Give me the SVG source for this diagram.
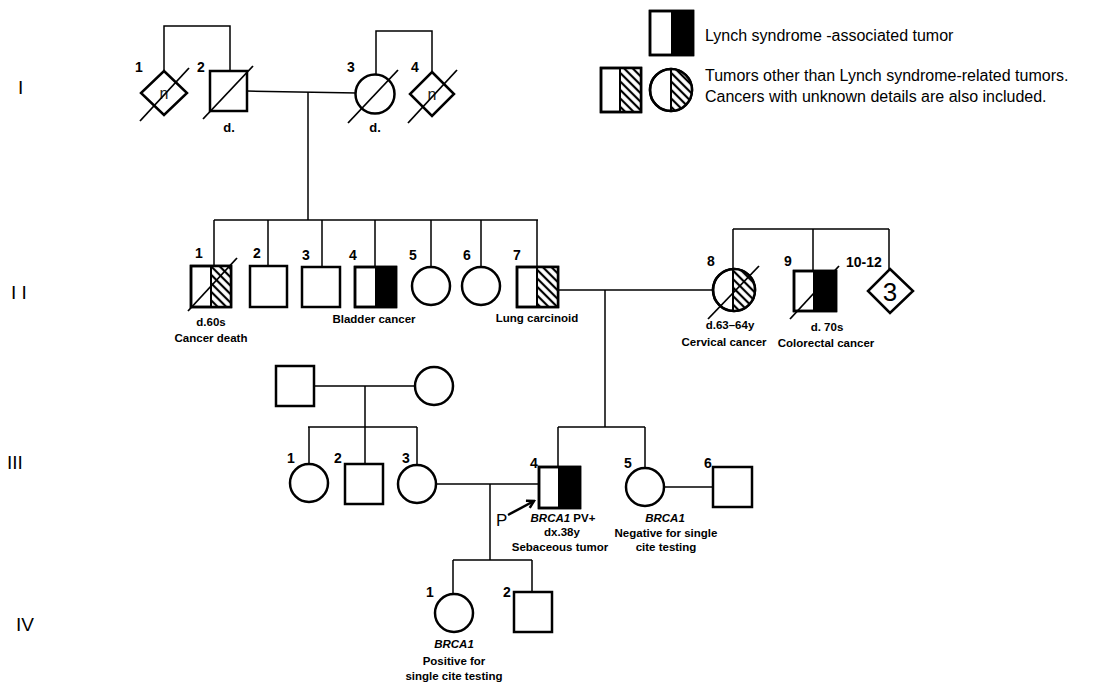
<svg xmlns="http://www.w3.org/2000/svg" width="1105" height="684" viewBox="0 0 1105 684">
<style>
.sym{fill:#fff;stroke:#000;stroke-width:2.5}
.blk{fill:#000;stroke:none}
.ln{fill:none;stroke:#000;stroke-width:1.5}
.sl{fill:none;stroke:#000;stroke-width:1.8}
.num{font-family:"Liberation Sans",Arial,sans-serif;font-weight:bold;font-size:14px;fill:#000}
.t{font-family:"Liberation Sans",Arial,sans-serif;font-weight:bold;font-size:11.5px;fill:#000;text-anchor:middle}
.it{font-style:italic}
.leg{font-family:"Liberation Sans",Arial,sans-serif;font-size:16px;fill:#000}
.gen{font-family:"Liberation Sans",Arial,sans-serif;font-size:19px;fill:#000}
.n{font-family:"Liberation Sans",Arial,sans-serif;font-size:16px;fill:#222;text-anchor:middle}
</style>
<defs>
<pattern id="hatch" width="6" height="6" patternUnits="userSpaceOnUse" patternTransform="rotate(-45)">
<rect width="6" height="6" fill="#fff"/>
<line x1="3" y1="-1" x2="3" y2="7" stroke="#000" stroke-width="2.2"/>
</pattern>
<clipPath id="c8"><circle cx="734" cy="290" r="21"/></clipPath>
<clipPath id="cleg"><circle cx="671" cy="90" r="21"/></clipPath>
<marker id="arr" markerWidth="10" markerHeight="10" refX="8" refY="5" orient="auto" markerUnits="userSpaceOnUse">
<path d="M1,1 L8,5 L1,9" fill="none" stroke="#000" stroke-width="2.5"/>
</marker>
</defs>
<rect width="1105" height="684" fill="#fff"/>

<g id="generations">
<text class="gen" x="18" y="94">I</text>
<text class="gen" x="11" y="299">I I</text>
<text class="gen" x="7" y="469">III</text>
<text class="gen" x="16" y="631">IV</text>
</g>

<g id="legend">
<rect class="sym" x="650" y="11" width="43" height="44"/>
<rect class="blk" x="671" y="11" width="22" height="44"/>
<rect x="650" y="11" width="43" height="44" fill="none" stroke="#000" stroke-width="2.5"/>
<text class="leg" x="705" y="41">Lynch syndrome -associated tumor</text>
<rect class="sym" x="601" y="68" width="40" height="44"/>
<rect x="620" y="68" width="21" height="44" fill="url(#hatch)"/>
<line x1="620" y1="68" x2="620" y2="112" stroke="#000" stroke-width="2"/>
<rect x="601" y="68" width="40" height="44" fill="none" stroke="#000" stroke-width="2.5"/>
<circle class="sym" cx="671" cy="90" r="21"/>
<rect x="671" y="68" width="22" height="44" fill="url(#hatch)" clip-path="url(#cleg)"/>
<line x1="671" y1="69" x2="671" y2="111" stroke="#000" stroke-width="2"/>
<circle cx="671" cy="90" r="21" fill="none" stroke="#000" stroke-width="2.5"/>
<text class="leg" x="705" y="81">Tumors other than Lynch syndrome-related tumors.</text>
<text class="leg" x="705" y="102">Cancers with unknown details are also included.</text>
</g>

<g id="connectors">
<path class="ln" d="M164,71 V26 H230 V71"/>
<path class="ln" d="M376,74 V31 H432 V72"/>
<path class="ln" d="M247,91 L357,93"/>
<path class="ln" d="M308,92 V220"/>
<path class="ln" d="M214,220 H538"/>
<path class="ln" d="M214,220 V266 M268,220 V266 M322,220 V267 M375,220 V267 M431,220 V267 M481,220 V267 M537,220 V267"/>
<path class="ln" d="M558,290 H712"/>
<path class="ln" d="M605,290 V427"/>
<path class="ln" d="M733,229 H889 M733,229 V269 M813,229 V271 M889,229 V269"/>
<path class="ln" d="M314,386 H415 M365,386 V427 M308,427 H417 M309,427 V464 M365,427 V464 M417,427 V465"/>
<path class="ln" d="M558,427 H645 M558,427 V467 M645,427 V467"/>
<path class="ln" d="M436,484 H539"/>
<path class="ln" d="M490,484 V560 M453,560 H532 M453,560 V594 M532,560 V592"/>
<path class="ln" d="M664,487 H713"/>
<line x1="508" y1="515" x2="534" y2="501" stroke="#000" stroke-width="2.5" marker-end="url(#arr)"/>
<text class="gen" x="496" y="526" style="font-size:17px">P</text>
</g>

<g id="I-1">
<polygon class="sym" points="164,71 187,93 164,115 141,93"/>
<text class="n" x="164" y="99">n</text>
<line class="sl" x1="140" y1="121" x2="189" y2="68"/>
<text class="num" x="135" y="72">1</text>
</g>
<g id="I-2">
<rect class="sym" x="210" y="71" width="37" height="40"/>
<line class="sl" x1="203" y1="119" x2="253" y2="66"/>
<text class="num" x="197" y="72">2</text>
<text class="t" x="229" y="132" style="font-size:13px">d.</text>
</g>
<g id="I-3">
<circle class="sym" cx="375" cy="94" r="19.5"/>
<line class="sl" x1="348" y1="123" x2="398" y2="70"/>
<text class="num" x="347" y="72">3</text>
<text class="t" x="375" y="132" style="font-size:13px">d.</text>
</g>
<g id="I-4">
<polygon class="sym" points="432,72 454,94 432,116 410,94"/>
<text class="n" x="432" y="100">n</text>
<line class="sl" x1="408" y1="123" x2="457" y2="70"/>
<text class="num" x="411" y="72">4</text>
</g>

<g id="II-1">
<rect class="sym" x="191" y="266" width="40" height="41"/>
<rect x="211" y="266" width="20" height="41" fill="url(#hatch)"/>
<line x1="211" y1="266" x2="211" y2="307" stroke="#000" stroke-width="2"/>
<rect x="191" y="266" width="40" height="41" fill="none" stroke="#000" stroke-width="2.5"/>
<line class="sl" x1="188" y1="311" x2="237" y2="258"/>
<text class="num" x="195" y="258">1</text>
<text class="t" x="211" y="326">d.60s</text>
<text class="t" x="211" y="342">Cancer death</text>
</g>
<g id="II-2">
<rect class="sym" x="250" y="266" width="37" height="41"/>
<text class="num" x="253" y="258">2</text>
</g>
<g id="II-3">
<rect class="sym" x="302" y="267" width="38" height="40"/>
<text class="num" x="302" y="260">3</text>
</g>
<g id="II-4">
<rect class="sym" x="355" y="267" width="41" height="40"/>
<rect class="blk" x="375" y="267" width="21" height="40"/>
<rect x="355" y="267" width="41" height="40" fill="none" stroke="#000" stroke-width="2.5"/>
<text class="num" x="349" y="260">4</text>
<text class="t" x="374" y="323">Bladder cancer</text>
</g>
<g id="II-5">
<circle class="sym" cx="431" cy="286" r="19"/>
<text class="num" x="409" y="260">5</text>
</g>
<g id="II-6">
<circle class="sym" cx="481" cy="286" r="19"/>
<text class="num" x="463" y="260">6</text>
</g>
<g id="II-7">
<rect class="sym" x="517" y="267" width="41" height="40"/>
<rect x="537" y="267" width="21" height="40" fill="url(#hatch)"/>
<line x1="537" y1="267" x2="537" y2="307" stroke="#000" stroke-width="2"/>
<rect x="517" y="267" width="41" height="40" fill="none" stroke="#000" stroke-width="2.5"/>
<text class="num" x="513" y="260">7</text>
<text class="t" x="537" y="322">Lung carcinoid</text>
</g>
<g id="II-8">
<circle class="sym" cx="734" cy="290" r="21"/>
<rect x="733" y="268" width="24" height="44" fill="url(#hatch)" clip-path="url(#c8)"/>
<line x1="733" y1="269" x2="733" y2="311" stroke="#000" stroke-width="2"/>
<circle cx="734" cy="290" r="21" fill="none" stroke="#000" stroke-width="2.5"/>
<line class="sl" x1="708" y1="319" x2="759" y2="266"/>
<text class="num" x="707" y="266">8</text>
<text class="t" x="730" y="329">d.63–64y</text>
<text class="t" x="724" y="346">Cervical cancer</text>
</g>
<g id="II-9">
<rect class="sym" x="794" y="271" width="42" height="40"/>
<rect class="blk" x="813" y="271" width="23" height="40"/>
<rect x="794" y="271" width="42" height="40" fill="none" stroke="#000" stroke-width="2.5"/>
<line class="sl" x1="790" y1="319" x2="839" y2="266"/>
<text class="num" x="784" y="266">9</text>
<text class="t" x="827" y="331">d. 70s</text>
<text class="t" x="826" y="347">Colorectal cancer</text>
</g>
<g id="II-10-12">
<polygon class="sym" points="890,269 913,291 890,313 868,291"/>
<text x="890" y="301" style="font-family:'Liberation Sans',Arial,sans-serif;font-size:26px;text-anchor:middle">3</text>
<text class="num" x="846" y="267">10-12</text>
</g>

<g id="III-father">
<rect class="sym" x="276" y="366" width="38" height="40"/>
</g>
<g id="III-mother">
<circle class="sym" cx="434" cy="386" r="19"/>
</g>
<g id="III-1">
<circle class="sym" cx="309" cy="483" r="19"/>
<text class="num" x="287" y="463">1</text>
</g>
<g id="III-2">
<rect class="sym" x="345" y="464" width="38" height="40"/>
<text class="num" x="334" y="463">2</text>
</g>
<g id="III-3">
<circle class="sym" cx="417" cy="484" r="19"/>
<text class="num" x="402" y="463">3</text>
</g>
<g id="III-4">
<rect class="sym" x="539" y="467" width="41" height="41"/>
<rect class="blk" x="558" y="467" width="22" height="41"/>
<rect x="539" y="467" width="41" height="41" fill="none" stroke="#000" stroke-width="2.5"/>
<text class="num" x="530" y="468">4</text>
<text class="t" x="563" y="522"><tspan class="it">BRCA1</tspan> PV+</text>
<text class="t" x="562" y="536">dx.38y</text>
<text class="t" x="560" y="551">Sebaceous tumor</text>
</g>
<g id="III-5">
<circle class="sym" cx="645" cy="487" r="19"/>
<text class="num" x="624" y="468">5</text>
<text class="t it" x="665" y="522">BRCA1</text>
<text class="t" x="666" y="537">Negative for single</text>
<text class="t" x="666" y="551">cite testing</text>
</g>
<g id="III-6">
<rect class="sym" x="713" y="467" width="39" height="40"/>
<text class="num" x="704" y="468">6</text>
</g>

<g id="IV-1">
<circle class="sym" cx="454" cy="613" r="19"/>
<text class="num" x="426" y="597">1</text>
<text class="t it" x="454" y="648">BRCA1</text>
<text class="t" x="454" y="665">Positive for</text>
<text class="t" x="454" y="680">single cite testing</text>
</g>
<g id="IV-2">
<rect class="sym" x="514" y="592" width="38" height="40"/>
<text class="num" x="503" y="597">2</text>
</g>
</svg>
